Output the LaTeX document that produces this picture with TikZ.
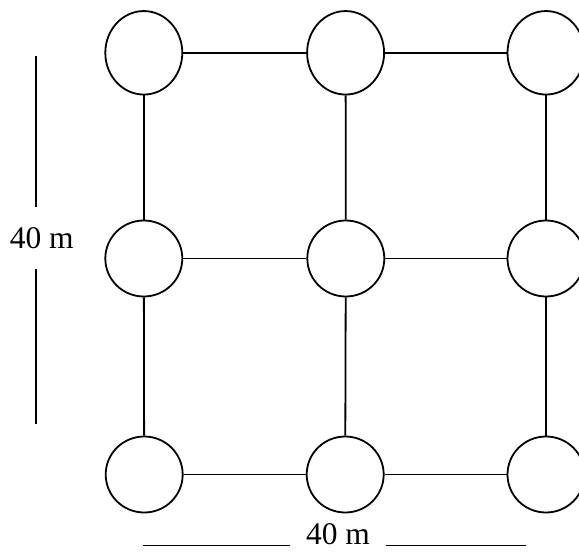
\documentclass[tikz,border=0pt]{standalone}
\usepackage{fontspec}
\setmainfont{Liberation Serif}
\usetikzlibrary{shapes.geometric}
\begin{document}
\begin{tikzpicture}[x=1pt,y=-1pt,
  well/.style={draw, ellipse, line width=1.8pt, minimum width=77pt, minimum height=76pt, inner sep=0pt},
  tallwell/.style={well, minimum height=83.5pt},
  pipe/.style={line width=1.8pt},
  dimline/.style={line width=1.6pt},
  dimlabel/.style={font=\fontsize{31.5}{36}\selectfont, anchor=base},
  vlabel/.style={dimlabel, inner xsep=0pt, inner ysep=20pt},
  hlabel/.style={dimlabel, inner xsep=16pt, inner ysep=1pt}]
\useasboundingbox (0,0) rectangle (579,552);

% grid of wells
\node[tallwell] (c11) at (143.8,52.8) {};
\node[tallwell] (c12) at (345.6,52.8) {};
\node[tallwell] (c13) at (546,52.8) {};
\node[well] (c21) at (143.8,258.5) {};
\node[well] (c22) at (345.8,258.5) {};
\node[well] (c23) at (546,258.5) {};
\node[well] (c31) at (144.2,474.5) {};
\node[well] (c32) at (345.2,474.5) {};
\node[well] (c33) at (546,474.5) {};

% pipes between wells
\draw[pipe] (c11) -- (c12);
\draw[pipe] (c12) -- (c13);
\draw[pipe] (c21) -- (c22);
\draw[pipe] (c22) -- (c23);
\draw[pipe] (c31) -- (c32);
\draw[pipe] (c32) -- (c33);
\draw[pipe] (c11) -- (c21);
\draw[pipe] (c21) -- (c31);
\draw[pipe] (c12) -- (c22);
\draw[pipe] (c22) -- (c32);
\draw[pipe] (c13) -- (c23);
\draw[pipe] (c23) -- (c33);

% vertical dimension
\coordinate (lv1) at (36.2,56);
\coordinate (lv2) at (36.2,424.3);
\node[vlabel] (lab1) at (41.7,248) {40 m};
\draw[dimline] (lv1) -- (lv1 |- lab1.north);
\draw[dimline] (lv2 |- lab1.south) -- (lv2);

% horizontal dimension
\coordinate (lb1) at (143.3,545.5);
\coordinate (lb2) at (525.7,545.5);
\node[hlabel] (lab2) at (338,544.5) {40 m};
\draw[dimline] (lb1) -- (lb1 -| lab2.west);
\draw[dimline] (lab2.east |- lb2) -- (lb2);
\end{tikzpicture}
\end{document}
